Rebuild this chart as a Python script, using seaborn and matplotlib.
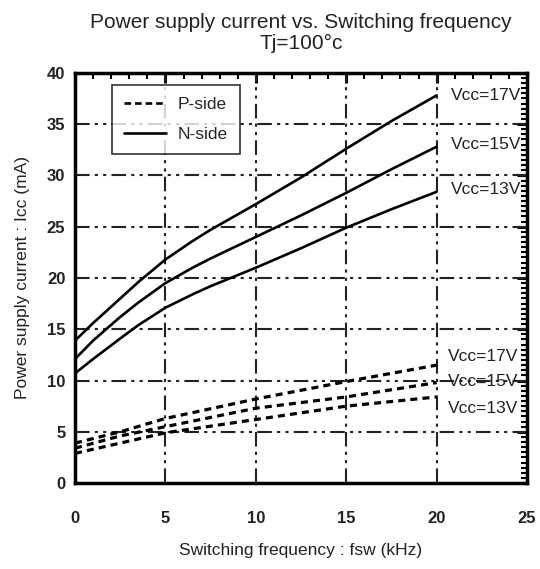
import pandas as pd
import matplotlib.pyplot as plt
import seaborn as sns
from matplotlib.ticker import MultipleLocator
from matplotlib.lines import Line2D

# Curve readings (kHz vs mA)
fsw_n = [0, 1, 2.5, 3.5, 5, 6.5, 7.5, 10, 12.5, 15, 17.5, 20]
n_17v = [13.9, 15.6, 18.0, 19.6, 21.8, 23.6, 24.7, 27.2, 29.8, 32.6, 35.3, 37.8]
n_15v = [12.1, 13.9, 16.2, 17.6, 19.5, 21.0, 21.9, 24.0, 26.1, 28.3, 30.6, 32.8]
n_13v = [10.7, 12.1, 14.1, 15.4, 17.1, 18.4, 19.2, 21.0, 22.9, 24.9, 26.7, 28.4]

fsw_p = [0, 2.5, 5, 10, 15, 20]
p_17v = [3.9, 5.0, 6.3, 8.2, 9.9, 11.5]
p_15v = [3.4, 4.6, 5.5, 7.3, 8.4, 9.8]
p_13v = [2.9, 3.9, 4.9, 6.2, 7.5, 8.4]

vcc_labels = ["Vcc=17V", "Vcc=15V", "Vcc=13V"]
n_label_y = [37.8, 33.0, 28.6]
p_label_y = [12.3, 9.9, 7.3]

rows = []
for lab, vals in zip(vcc_labels, [n_17v, n_15v, n_13v]):
    for f, v in zip(fsw_n, vals):
        rows.append({"fsw": f, "icc": v, "side": "N-side", "vcc": lab})
for lab, vals in zip(vcc_labels, [p_17v, p_15v, p_13v]):
    for f, v in zip(fsw_p, vals):
        rows.append({"fsw": f, "icc": v, "side": "P-side", "vcc": lab})
df = pd.DataFrame(rows)
df["curve"] = df["side"] + df["vcc"]

sns.set_style("white")
plt.rcParams["font.family"] = ["Liberation Sans", "DejaVu Sans"]

fig = plt.figure(figsize=(5.4, 5.69), dpi=100)
ax = fig.add_axes([0.139, 0.151, 0.837, 0.721])

# grid first so curves sit on top
grid_style = (0, (7, 2.5, 1.5, 2.5, 1.5, 2.5))
for gx in [5, 10, 15, 20]:
    ax.axvline(gx, color="#222222", lw=1.5, ls=grid_style, zorder=1)
for gy in [5, 10, 15, 20, 25, 30, 35]:
    ax.axhline(gy, color="#222222", lw=1.5, ls=grid_style, zorder=1)

sns.lineplot(data=df, x="fsw", y="icc", style="side", units="curve",
             estimator=None, color="black", legend=False, ax=ax,
             dashes={"N-side": "", "P-side": (2.2, 1.6)},
             style_order=["P-side", "N-side"], zorder=3)
for ln in ax.lines:
    if ln.get_linestyle() == "-" and len(ln.get_xdata()) > 2:
        ln.set_linewidth(1.9)
        ln.set_solid_joinstyle("round")
    elif len(ln.get_xdata()) > 2:
        ln.set_linewidth(2.3)

ax.set_xlim(0, 25)
ax.set_ylim(0, 40)
ax.xaxis.set_major_locator(MultipleLocator(5))
ax.yaxis.set_major_locator(MultipleLocator(5))
ax.xaxis.set_minor_locator(MultipleLocator(1))
ax.yaxis.set_minor_locator(MultipleLocator(0.5))
ax.tick_params(which="both", direction="in", top=True, right=True, color="black")
ax.tick_params(which="major", length=7, width=2.2)
ax.tick_params(which="minor", length=4, width=1.5)
ax.tick_params(axis="x", which="major", pad=20, labelsize=12)
ax.tick_params(axis="y", which="major", pad=7, labelsize=12)
for t in ax.get_xticklabels() + ax.get_yticklabels():
    t.set_fontweight("bold")
    t.set_color("#222222")
for sp in ax.spines.values():
    sp.set_linewidth(2.5)
    sp.set_color("black")

ax.set_xlabel("Switching frequency : fsw (kHz)", fontsize=12.5, labelpad=12, color="#222222")
ax.set_ylabel("Power supply current : Icc (mA)", fontsize=12.5, labelpad=12, color="#222222")
ax.set_title("Power supply current vs. Switching frequency\nTj=100°c", fontsize=15,
             pad=17, color="#222222", linespacing=1.15)

for lab, y in zip(vcc_labels, n_label_y):
    ax.text(20.8, y, lab, fontsize=12.5, va="center", ha="left", color="#222222",
            clip_on=False, zorder=4)
for lab, y in zip(vcc_labels, p_label_y):
    ax.text(20.6, y, lab, fontsize=12.5, va="center", ha="left", color="#222222",
            clip_on=False, zorder=4)

handles = [Line2D([0], [0], color="black", lw=1.9, ls=(0, (2.5, 1.5))),
           Line2D([0], [0], color="black", lw=1.9, ls="-")]
leg = ax.legend(handles, ["P-side", "N-side"], loc="upper left",
                bbox_to_anchor=(0.082, 0.971), borderaxespad=0, fontsize=12.5,
                frameon=True, fancybox=False, handlelength=2.4, borderpad=0.7,
                labelspacing=0.85, handletextpad=0.7)
leg.get_frame().set_edgecolor("black")
leg.get_frame().set_linewidth(1.2)
leg.set_zorder(5)

fig.savefig("out.png", dpi=100)
